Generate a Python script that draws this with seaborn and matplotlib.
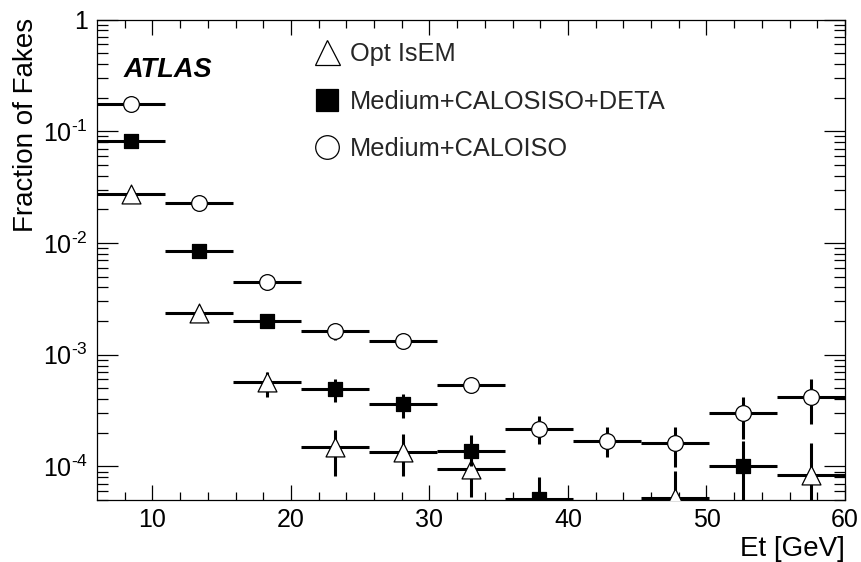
import numpy as np
import matplotlib
matplotlib.use("Agg")
import matplotlib.pyplot as plt
from matplotlib.lines import Line2D
from matplotlib.ticker import FixedLocator, FuncFormatter, LogLocator, NullFormatter
import seaborn as sns

# Et bin edges [GeV]
et_edges = [6.0, 10.91, 15.82, 20.73, 25.64, 30.55, 35.45, 40.36, 45.27, 50.18, 55.09, 60.0]

nan = np.nan

# Opt IsEM
opt_val = [0.0272, 0.00236, 5.74e-4, 1.50e-4, 1.35e-4, 9.4e-5, nan, nan, 5.2e-5, nan, 8.3e-5]
opt_lo = [0.0272, 0.00236, 4.15e-4, 8.2e-5, 8.2e-5, 5.3e-5, nan, nan, 3e-5, nan, 3e-5]
opt_hi = [0.0272, 0.00236, 7.0e-4, 2.12e-4, 1.94e-4, 1.25e-4, nan, nan, 9.1e-5, nan, 1.63e-4]

# Medium+CALOSISO+DETA
deta_val = [0.0823, 0.00847, 0.00202, 4.94e-4, 3.59e-4, 1.38e-4, 5.15e-5, nan, nan, 1.0e-4, nan]
deta_lo = [0.0823, 0.00847, 0.00202, 3.74e-4, 2.71e-4, 1.0e-4, 1e-5, nan, nan, 1e-5, nan]
deta_hi = [0.0823, 0.00847, 0.00202, 6.08e-4, 4.45e-4, 1.92e-4, 8.0e-5, nan, nan, 1.7e-4, nan]

# Medium+CALOISO
iso_val = [0.176, 0.0226, 0.00445, 0.00162, 0.00132, 5.37e-4, 2.15e-4, 1.69e-4, 1.63e-4, 3.0e-4, 4.2e-4]
iso_lo = [0.176, 0.0226, 0.00445, 0.00136, 0.00132, 4.6e-4, 1.6e-4, 1.21e-4, 9.9e-5, 1.77e-4, 2.39e-4]
iso_hi = [0.176, 0.0226, 0.00445, 0.00162, 0.00132, 6.25e-4, 2.84e-4, 2.27e-4, 2.27e-4, 4.15e-4, 6.08e-4]

labels = ["Opt IsEM", "Medium+CALOSISO+DETA", "Medium+CALOISO"]

sns.set_theme(style="ticks")
plt.rcParams["font.family"] = ["Liberation Sans", "DejaVu Sans"]
plt.rcParams["mathtext.fontset"] = "custom"
plt.rcParams["mathtext.rm"] = "Liberation Sans"
plt.rcParams["mathtext.it"] = "Liberation Sans:italic"
plt.rcParams["mathtext.bf"] = "Liberation Sans:bold"

fig = plt.figure(figsize=(8.61, 5.62), dpi=100)
ax = fig.add_axes([0.1127, 0.1103, 0.8687, 0.8547])

edges = np.array(et_edges)
centers = 0.5 * (edges[:-1] + edges[1:])
half = 0.5 * (edges[1:] - edges[:-1])

series = [
    (opt_val, opt_lo, opt_hi, "^", "white", 185),
    (deta_val, deta_lo, deta_hi, "s", "black", 106),
    (iso_val, iso_lo, iso_hi, "o", "white", 128),
]

z = 2
for val, lo, hi, mk, fc, size in series:
    v = np.array(val)
    l = np.array(lo)
    h = np.array(hi)
    ok = ~np.isnan(v)
    ax.errorbar(centers[ok], v[ok], xerr=half[ok],
                yerr=[v[ok] - l[ok], h[ok] - v[ok]],
                fmt="none", ecolor="black", elinewidth=2.2, capsize=0, zorder=z)
    sns.scatterplot(x=centers[ok], y=v[ok], marker=mk, s=size, color=fc,
                    edgecolor="black", linewidth=0.9, ax=ax, zorder=z + 1)
    z += 2

ax.set_yscale("log")
ax.set_xlim(6, 60)
ax.set_ylim(5e-5, 1)

# Axis styling: ticks inside on all four sides
for sp in ax.spines.values():
    sp.set_visible(True)
    sp.set_linewidth(0.9)
    sp.set_color("black")

ax.xaxis.set_major_locator(FixedLocator([10, 20, 30, 40, 50, 60]))
ax.xaxis.set_minor_locator(FixedLocator(np.arange(8, 60, 2)))
ax.yaxis.set_major_locator(LogLocator(base=10, numticks=10))
ax.yaxis.set_minor_locator(LogLocator(base=10, subs=np.arange(2, 10), numticks=20))
ax.yaxis.set_minor_formatter(NullFormatter())


def ylab(val, pos):
    if val >= 0.999:
        return "1"
    k = int(round(np.log10(val)))
    return r"$10^{\text{-}%d}$" % (-k)


ax.yaxis.set_major_formatter(FuncFormatter(ylab))

ax.tick_params(axis="both", which="both", direction="in", top=True, right=True,
               width=0.9, color="black", labelsize=18, labelcolor="black")
ax.tick_params(axis="x", which="major", length=11, pad=6)
ax.tick_params(axis="x", which="minor", length=5.5)
ax.tick_params(axis="y", which="major", length=15, pad=6.5)
ax.tick_params(axis="y", which="minor", length=8)

ax.set_xlabel("Et [GeV]", fontsize=20, loc="right", color="black")
ax.xaxis.set_label_coords(1.0, -0.075)
ax.set_ylabel("Fraction of Fakes", fontsize=20, loc="top", color="black")
ax.yaxis.set_label_coords(-0.077, 1.003)

ax.text(0.035, 0.895, "ATLAS", transform=ax.transAxes, fontsize=19.5,
        fontweight="bold", fontstyle="italic", va="center", ha="left", color="black")

handles = [
    Line2D([], [], linestyle="none", marker="^", markersize=18, markerfacecolor="white",
           markeredgecolor="black", markeredgewidth=0.9),
    Line2D([], [], linestyle="none", marker="s", markersize=16, markerfacecolor="black",
           markeredgecolor="black", markeredgewidth=0.9),
    Line2D([], [], linestyle="none", marker="o", markersize=17, markerfacecolor="white",
           markeredgecolor="black", markeredgewidth=0.9),
]
ax.legend(handles, labels, loc="upper left", bbox_to_anchor=(0.291, 0.953),
          frameon=False, fontsize=18.3, handlelength=1.0, handletextpad=0.4,
          labelspacing=0.92, borderpad=0, borderaxespad=0)

fig.savefig("out.png", dpi=100)
